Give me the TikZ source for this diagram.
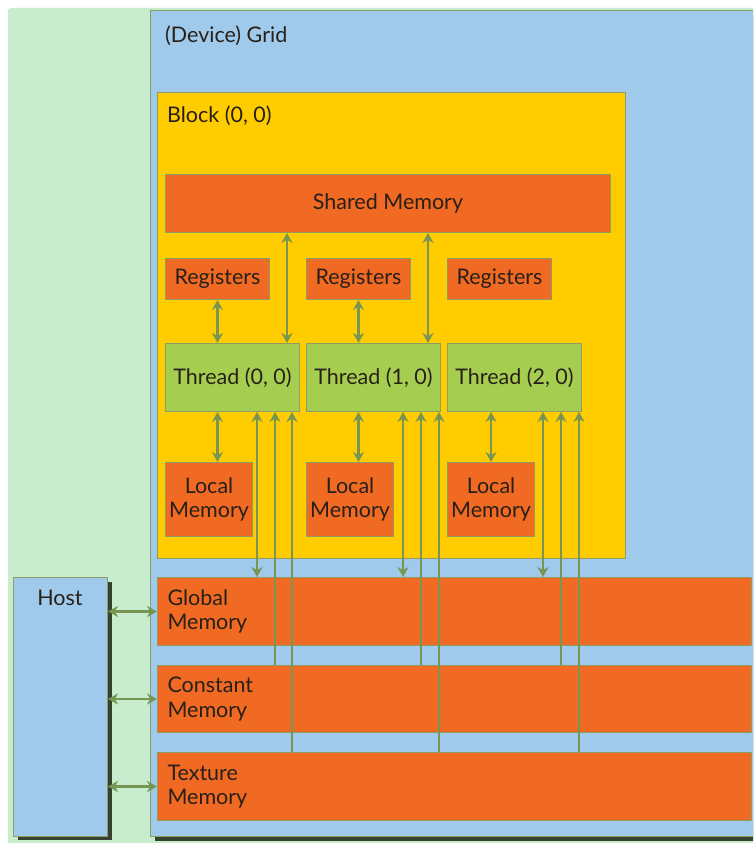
\documentclass[tikz,border=0pt]{standalone}
\usepackage{fontspec}
\setmainfont{Lato}
\usetikzlibrary{arrows.meta,calc}
\definecolor{hostgreen}{RGB}{200,236,206}
\definecolor{gridblue}{RGB}{160,202,236}
\definecolor{blockyellow}{RGB}{255,204,0}
\definecolor{memorange}{RGB}{240,106,36}
\definecolor{threadgreen}{RGB}{165,205,80}
\definecolor{edgeolive}{RGB}{140,158,100}
\definecolor{linkolive}{RGB}{118,150,82}
\definecolor{shadowdark}{RGB}{55,65,50}
\definecolor{inkdark}{RGB}{40,32,24}

\begin{document}
\begin{tikzpicture}[x=1pt,y=-1pt,
  box/.style={draw=edgeolive,line width=1pt,inner sep=0pt,anchor=north west,font=\fontsize{21.5}{24.5}\selectfont,text=inkdark},
  mem/.style={box,fill=memorange},
  bigmem/.style={mem,minimum width=594pt,minimum height=68pt,inner xsep=10pt,text width=574pt,align=left},
  thr/.style={box,fill=threadgreen,minimum width=134pt,minimum height=68pt},
  lbl/.style={font=\fontsize{21.5}{24.5}\selectfont,text=inkdark,inner sep=0pt},
  link/.style={draw=linkolive,line width=2.2pt,{Stealth[length=10pt,width=11pt]}-{Stealth[length=10pt,width=11pt]}},
  uplink/.style={draw=linkolive,line width=2.2pt,-{Stealth[length=10pt,width=11pt]}}]
\clip (0,0) rectangle (753,843);
\fill[white] (0,0) rectangle (753,843);
\fill[hostgreen,rounded corners=3pt] (8,8) rectangle (770,860);
% device side
\fill[shadowdark] (155,15) rectangle (770,841);
\node[box,fill=gridblue,minimum width=640pt,minimum height=826pt] (grid) at (150,10) {};
\node[lbl,anchor=west] (gridlbl) at (165,36) {(Device) Grid};
\node[box,fill=blockyellow,minimum width=468pt,minimum height=466pt] (block) at (157,92) {};
\node[lbl,anchor=west] (blocklbl) at (167,116) {Block (0, 0)};
\node[mem,minimum width=445pt,minimum height=58pt] (shared) at (165,174) {Shared Memory};
\foreach \i/\x in {0/165,1/306,2/447}{
  \node[mem,minimum width=104pt,minimum height=41pt] (reg\i) at (\x,258) {Registers};
  \node[thr] (t\i) at (\x,343) {Thread (\i, 0)};
  \node[mem,minimum width=87pt,minimum height=74pt,align=center] (loc\i) at (\x,462) {Local\\Memory};
}
\node[bigmem] (glob) at (157,577) {Global\\Memory};
\node[bigmem,minimum height=67pt] (const) at (157,665) {Constant\\Memory};
\node[bigmem] (tex) at (157,752) {Texture\\Memory};
% host
\fill[shadowdark] (18,582) rectangle (112,840);
\node[box,fill=gridblue,minimum width=94pt,minimum height=259pt] (host) at (13,577) {};
\node[lbl] (hostlbl) at (60,598) {Host};
% connectors
\foreach \i in {0,1}{
  \draw[link] (reg\i.south) -- (reg\i.south |- t\i.north);
  \draw[link] (t\i.south -| reg\i) -- (reg\i |- loc\i.north);
  \coordinate (s\i) at ($(t\i.north west)+(122,0)$);
  \draw[link] (s\i) -- (s\i |- shared.south);
}
\draw[link] (loc2.north) -- (loc2.north |- t2.south);
\foreach \i/\a/\b/\c in {0/92/110/127,1/97/115/133,2/96/114/132}{
  \coordinate (g\i) at ($(t\i.south west)+(\a,0)$);
  \coordinate (c\i) at ($(t\i.south west)+(\b,0)$);
  \coordinate (x\i) at ($(t\i.south west)+(\c,0)$);
  \draw[link] (g\i) -- (g\i |- glob.north);
  \draw[uplink] (c\i |- const.north) -- (c\i);
  \draw[uplink] (x\i |- tex.north) -- (x\i);
}
\foreach \m in {glob,const,tex}
  \draw[link] (host.east |- \m.west) -- (\m.west);
\end{tikzpicture}
\end{document}
